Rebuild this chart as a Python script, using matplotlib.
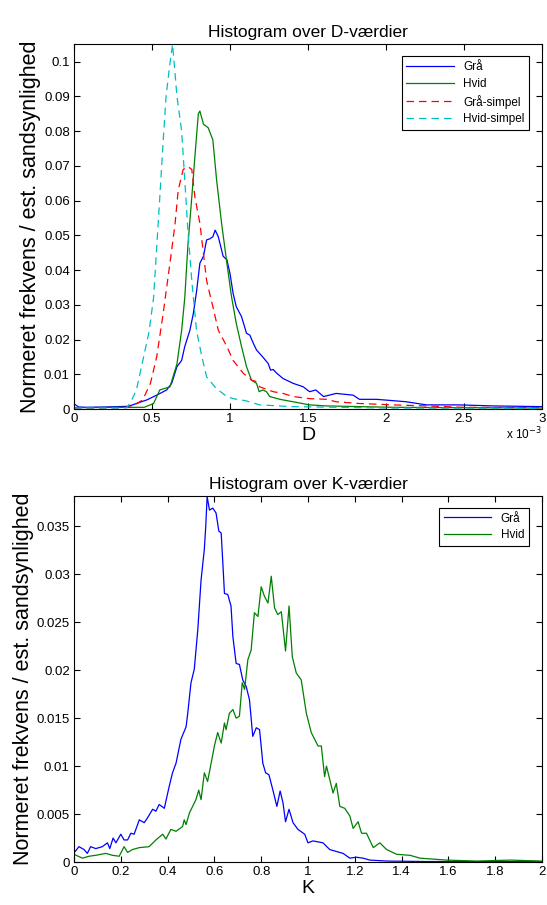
import numpy as np
import matplotlib
matplotlib.use("Agg")
import matplotlib.pyplot as plt
from matplotlib.ticker import FormatStrFormatter, MultipleLocator

plt.rcParams['font.family'] = ['Liberation Sans', 'DejaVu Sans']

# --- D histogram (x in units of 1e-3) ---
d_gray_x = [0.0, 0.03, 0.08, 0.2, 0.35, 0.40, 0.465, 0.53, 0.594, 0.626, 0.66, 0.69, 0.71,
            0.743, 0.765, 0.786, 0.807, 0.83, 0.85, 0.87, 0.89, 0.905, 0.925, 0.956, 0.98,
            1.0, 1.02, 1.04, 1.074, 1.106, 1.127, 1.15, 1.17, 1.21, 1.245, 1.26, 1.277,
            1.3, 1.34, 1.405, 1.47, 1.51, 1.55, 1.6, 1.68, 1.79, 1.83, 1.94, 2.05, 2.13,
            2.26, 2.47, 2.69, 3.0]
d_gray_y = [0.0015, 0.0006, 0.0005, 0.0006, 0.0008, 0.0016, 0.0026, 0.0040, 0.0055, 0.0074,
            0.0122, 0.0140, 0.0180, 0.0227, 0.0275, 0.0340, 0.0420, 0.0440, 0.0487, 0.0490,
            0.0496, 0.0515, 0.0496, 0.0440, 0.0430, 0.0390, 0.0333, 0.0295, 0.0266, 0.0218,
            0.0213, 0.0189, 0.0170, 0.0150, 0.0131, 0.0112, 0.0114, 0.0103, 0.0088, 0.0074,
            0.0064, 0.0050, 0.0055, 0.0036, 0.0045, 0.0040, 0.0028, 0.0028, 0.0024, 0.0021,
            0.0012, 0.0012, 0.0009, 0.0007]

d_white_x = [0.0, 0.3, 0.45, 0.51, 0.55, 0.615, 0.66, 0.69, 0.71, 0.73, 0.755, 0.775, 0.797,
             0.807, 0.83, 0.86, 0.89, 0.914, 0.946, 0.98, 1.01, 1.04, 1.074, 1.106, 1.138,
             1.17, 1.187, 1.21, 1.234, 1.255, 1.32, 1.405, 1.51, 1.62, 1.83, 2.05, 3.0]
d_white_y = [0.0004, 0.0005, 0.0005, 0.0016, 0.0055, 0.0064, 0.0130, 0.0227, 0.0320, 0.0470,
             0.0610, 0.0727, 0.0850, 0.0858, 0.0820, 0.0810, 0.0775, 0.0660, 0.0535, 0.0420,
             0.0323, 0.0247, 0.0180, 0.0122, 0.0083, 0.0074, 0.0050, 0.0055, 0.0050, 0.0036,
             0.0028, 0.0021, 0.0012, 0.0009, 0.0007, 0.0005, 0.0003]

d_gray_s_x = [0.0, 0.3, 0.36, 0.44, 0.49, 0.53, 0.57, 0.615, 0.647, 0.668, 0.70, 0.73, 0.755,
              0.775, 0.807, 0.85, 0.89, 0.925, 0.98, 1.02, 1.085, 1.14, 1.17, 1.19, 1.277,
              1.34, 1.405, 1.51, 1.62, 1.68, 1.83, 2.05, 2.26, 2.5, 3.0]
d_gray_s_y = [0.0003, 0.0004, 0.0005, 0.0026, 0.0074, 0.0150, 0.0270, 0.0420, 0.0530, 0.0630,
              0.0690, 0.0698, 0.0690, 0.0610, 0.0535, 0.0370, 0.0295, 0.0227, 0.0180, 0.0140,
              0.0103, 0.0083, 0.0079, 0.0064, 0.0050, 0.0045, 0.0036, 0.0030, 0.0028, 0.0021,
              0.0016, 0.0012, 0.0009, 0.0005, 0.0004]

d_white_s_x = [0.0, 0.3, 0.34, 0.37, 0.40, 0.48, 0.51, 0.55, 0.57, 0.59, 0.615, 0.632, 0.66,
               0.69, 0.71, 0.73, 0.755, 0.785, 0.82, 0.85, 0.91, 0.98, 1.02, 1.1, 1.19, 1.4,
               2.0, 3.0]
d_white_s_y = [0.0003, 0.0003, 0.0004, 0.0026, 0.0055, 0.0220, 0.0320, 0.0610, 0.0760, 0.0900,
               0.0995, 0.1050, 0.0900, 0.0800, 0.0660, 0.0515, 0.0370, 0.0227, 0.0150, 0.0093,
               0.0060, 0.0036, 0.0030, 0.0024, 0.0012, 0.0007, 0.0003, 0.0002]

# --- K histogram ---
k_gray_x = [0.0, 0.021, 0.043, 0.057, 0.071, 0.093, 0.121, 0.143, 0.153, 0.167, 0.179, 0.2,
            0.214, 0.229, 0.243, 0.257, 0.279, 0.3, 0.314, 0.336, 0.35, 0.364, 0.386, 0.407,
            0.421, 0.436, 0.457, 0.479, 0.486, 0.5, 0.514, 0.529, 0.543, 0.557, 0.563, 0.569,
            0.579, 0.593, 0.607, 0.619, 0.629, 0.636, 0.643, 0.657, 0.671, 0.679, 0.693,
            0.707, 0.721, 0.736, 0.75, 0.764, 0.779, 0.793, 0.807, 0.819, 0.833, 0.85, 0.867,
            0.881, 0.893, 0.904, 0.919, 0.936, 0.957, 0.986, 1.0, 1.021, 1.064, 1.093, 1.121,
            1.15, 1.179, 1.207, 1.236, 1.264, 1.336, 1.5, 2.0]
k_gray_y = [0.00094, 0.0016, 0.0013, 0.0009, 0.0016, 0.0014, 0.0016, 0.0020, 0.0014, 0.0025,
            0.0020, 0.0029, 0.0023, 0.0023, 0.0030, 0.0029, 0.0044, 0.0041, 0.0046, 0.0055,
            0.0053, 0.0060, 0.0056, 0.0079, 0.0093, 0.0103, 0.0128, 0.0141, 0.0155, 0.0187,
            0.0201, 0.0242, 0.0294, 0.0326, 0.0350, 0.0381, 0.0367, 0.0369, 0.0364, 0.0345,
            0.0343, 0.0312, 0.0280, 0.0279, 0.0267, 0.0235, 0.0207, 0.0206, 0.0190, 0.0183,
            0.0169, 0.0131, 0.0140, 0.0138, 0.0103, 0.0093, 0.0091, 0.0075, 0.0058, 0.0074,
            0.0062, 0.0042, 0.0055, 0.0041, 0.0034, 0.0029, 0.0020, 0.0022, 0.0020, 0.0013,
            0.0011, 0.0009, 0.0004, 0.0005, 0.0004, 0.0002, 0.0001, 0.00005, 0.00003]

k_white_x = [0.0, 0.036, 0.064, 0.093, 0.136, 0.164, 0.193, 0.214, 0.229, 0.25, 0.279, 0.321,
             0.35, 0.379, 0.393, 0.414, 0.436, 0.464, 0.471, 0.479, 0.493, 0.507, 0.521, 0.533,
             0.543, 0.557, 0.571, 0.586, 0.6, 0.614, 0.629, 0.643, 0.65, 0.664, 0.679, 0.693,
             0.707, 0.719, 0.729, 0.743, 0.757, 0.771, 0.786, 0.8, 0.814, 0.829, 0.843, 0.857,
             0.871, 0.886, 0.904, 0.919, 0.933, 0.95, 0.971, 0.993, 1.014, 1.043, 1.057, 1.071,
             1.079, 1.093, 1.107, 1.121, 1.136, 1.157, 1.179, 1.193, 1.214, 1.229, 1.25, 1.279,
             1.307, 1.336, 1.379, 1.436, 1.479, 1.536, 1.593, 1.721, 1.864, 2.0]
k_white_y = [0.0008, 0.0004, 0.0006, 0.0007, 0.0009, 0.0007, 0.0006, 0.0016, 0.0010, 0.0013,
             0.0015, 0.0016, 0.0023, 0.0029, 0.0024, 0.0034, 0.0032, 0.0037, 0.0044, 0.0039,
             0.0051, 0.0058, 0.0065, 0.0075, 0.0065, 0.0093, 0.0084, 0.0103, 0.0121, 0.0135,
             0.0124, 0.0145, 0.0138, 0.0155, 0.0159, 0.0150, 0.0152, 0.0187, 0.0180, 0.0211,
             0.0221, 0.0260, 0.0256, 0.0287, 0.0277, 0.0270, 0.0298, 0.0265, 0.0258, 0.0261,
             0.0220, 0.0267, 0.0214, 0.0197, 0.0190, 0.0155, 0.0135, 0.0121, 0.0121, 0.0089,
             0.0100, 0.0086, 0.0072, 0.0082, 0.0058, 0.0056, 0.0048, 0.0035, 0.0042, 0.0030,
             0.0030, 0.0015, 0.0020, 0.0013, 0.0008, 0.0007, 0.0004, 0.0003, 0.0002, 0.0001,
             0.0002, 0.0001]

BLUE = (0, 0, 1)
GREEN = (0, 0.5, 0)
RED = (1, 0, 0)
CYAN = (0, 0.75, 0.75)


def style_axes(ax):
    ax.tick_params(direction='in', top=True, right=True, length=4, labelsize=9.5, pad=3)
    for s in ax.spines.values():
        s.set_linewidth(0.8)


fig = plt.figure(figsize=(5.47, 9.05), dpi=100)
ax1 = fig.add_axes([0.1353, 0.548, 0.8555, 0.403])
ax2 = fig.add_axes([0.1353, 0.0475, 0.8555, 0.4048])

ax1.plot(d_gray_x, d_gray_y, color=BLUE, lw=0.9, label='Grå')
ax1.plot(d_white_x, d_white_y, color=GREEN, lw=0.9, label='Hvid')
ax1.plot(d_gray_s_x, d_gray_s_y, color=RED, lw=0.9, ls=(0, (6, 4)), label='Grå-simpel')
ax1.plot(d_white_s_x, d_white_s_y, color=CYAN, lw=0.9, ls=(0, (6, 4)), label='Hvid-simpel')
ax1.set_xlim(0, 3)
ax1.set_ylim(0, 0.105)
ax1.xaxis.set_major_locator(MultipleLocator(0.5))
ax1.yaxis.set_major_locator(MultipleLocator(0.01))
ax1.xaxis.set_major_formatter(FormatStrFormatter('%g'))
ax1.yaxis.set_major_formatter(FormatStrFormatter('%g'))
style_axes(ax1)
ax1.set_title('Histogram over D-værdier', fontsize=12.5, pad=5)
ax1.set_xlabel('D', fontsize=14, labelpad=1)
ax1.set_ylabel('Normeret frekvens / est. sandsynlighed', fontsize=15.5, labelpad=2)
ax1.text(1.0, -0.045, r'x 10$^{-3}$', transform=ax1.transAxes, ha='right', va='top', fontsize=8.5)
leg1 = ax1.legend(loc='upper right', bbox_to_anchor=(0.985, 0.983), fontsize=8.5,
                  fancybox=False, framealpha=1, edgecolor='black', borderpad=0.4,
                  handlelength=4, labelspacing=0.4)
leg1.get_frame().set_linewidth(0.8)

ax2.plot(k_gray_x, k_gray_y, color=BLUE, lw=0.9, label='Grå')
ax2.plot(k_white_x, k_white_y, color=GREEN, lw=0.9, label='Hvid')
ax2.set_xlim(0, 2)
ax2.set_ylim(0, 0.0382)
ax2.xaxis.set_major_locator(MultipleLocator(0.2))
ax2.yaxis.set_major_locator(MultipleLocator(0.005))
ax2.xaxis.set_major_formatter(FormatStrFormatter('%g'))
ax2.yaxis.set_major_formatter(FormatStrFormatter('%g'))
style_axes(ax2)
ax2.set_title('Histogram over K-værdier', fontsize=12.5, pad=5)
ax2.set_xlabel('K', fontsize=14, labelpad=1)
ax2.set_ylabel('Normeret frekvens / est. sandsynlighed', fontsize=15.5, labelpad=2)
leg2 = ax2.legend(loc='upper right', bbox_to_anchor=(0.985, 0.983), fontsize=8.5,
                  fancybox=False, framealpha=1, edgecolor='black', borderpad=0.4,
                  handlelength=4, labelspacing=0.4)
leg2.get_frame().set_linewidth(0.8)

fig.savefig('out.png', dpi=100)
